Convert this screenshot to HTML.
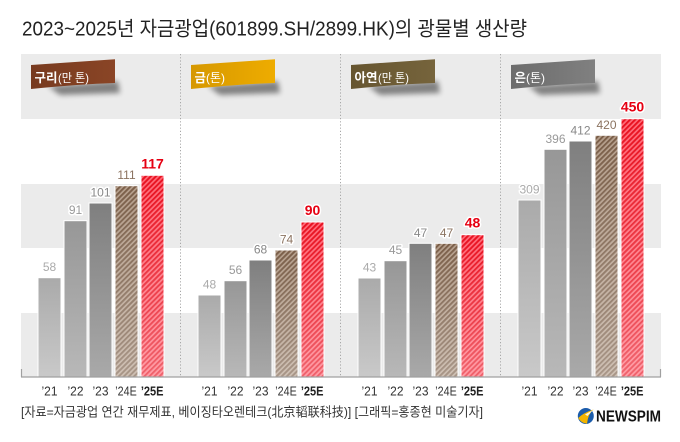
<!DOCTYPE html>
<html><head><meta charset="utf-8"><style>
html,body{margin:0;padding:0;background:#fff;}
svg{display:block;}
text{font-family:"Liberation Sans","Noto Sans CJK KR",sans-serif;}
.v{font-size:12px;fill:#999;stroke:#fff;stroke-width:3px;paint-order:stroke;stroke-linejoin:round;text-anchor:middle;}
.vb{font-size:12px;fill:#8b7360;stroke:#fff;stroke-width:3px;paint-order:stroke;stroke-linejoin:round;text-anchor:middle;}
.vr{font-size:14px;font-weight:bold;fill:#e60012;stroke:#fff;stroke-width:3px;paint-order:stroke;stroke-linejoin:round;text-anchor:middle;}
.x{font-size:12.5px;fill:#333;text-anchor:middle;}
.xb{font-size:12.5px;font-weight:bold;fill:#222;text-anchor:middle;}
.tg{font-size:12.5px;font-weight:bold;fill:#fff;}
.tu{font-size:12px;fill:#fff;}
</style></head><body>
<svg width="680" height="442" viewBox="0 0 680 442" xmlns="http://www.w3.org/2000/svg">
<defs>
  <linearGradient id="g1" x1="0" y1="0" x2="0" y2="1"><stop offset="0" stop-color="#aaaaaa"/><stop offset="1" stop-color="#c9c9c9"/></linearGradient>
  <linearGradient id="g2" x1="0" y1="0" x2="0" y2="1"><stop offset="0" stop-color="#979797"/><stop offset="1" stop-color="#b8b8b8"/></linearGradient>
  <linearGradient id="g3" x1="0" y1="0" x2="0" y2="1"><stop offset="0" stop-color="#7f7f7f"/><stop offset="1" stop-color="#a9a9a9"/></linearGradient>
  <pattern id="pb" width="3.6" height="3.6" patternUnits="userSpaceOnUse" patternTransform="rotate(45)">
    <rect width="3.6" height="3.6" fill="#b59f8c"/><rect width="1.9" height="3.6" fill="#7a5e48"/>
  </pattern>
  <pattern id="pr" width="3.6" height="3.6" patternUnits="userSpaceOnUse" patternTransform="rotate(45)">
    <rect width="3.6" height="3.6" fill="#ff6a78"/><rect width="1.9" height="3.6" fill="#e8101f"/>
  </pattern>
  <linearGradient id="fade" x1="0" y1="0" x2="0" y2="1"><stop offset="0" stop-color="#fff" stop-opacity="0"/><stop offset="1" stop-color="#fff" stop-opacity="0.35"/></linearGradient>
  <linearGradient id="tc" x1="0" x2="1"><stop offset="0" stop-color="#773a1f"/><stop offset="1" stop-color="#8a4526"/></linearGradient>
  <linearGradient id="tgo" x1="0" x2="1"><stop offset="0" stop-color="#d69800"/><stop offset="1" stop-color="#eeac00"/></linearGradient>
  <linearGradient id="tz" x1="0" x2="1"><stop offset="0" stop-color="#665530"/><stop offset="1" stop-color="#76643c"/></linearGradient>
  <linearGradient id="ts" x1="0" x2="1"><stop offset="0" stop-color="#6c6c6c"/><stop offset="1" stop-color="#808080"/></linearGradient>
  <filter id="blur" x="-20%" y="-50%" width="140%" height="200%"><feGaussianBlur stdDeviation="2.6"/></filter>
</defs>

<!-- title -->
<text x="22" y="35.5" font-size="20" fill="#222" textLength="505" lengthAdjust="spacingAndGlyphs">2023~2025년 자금광업(601899.SH/2899.HK)의 광물별 생산량</text>

<!-- bands -->
<rect x="21" y="54" width="640" height="65" fill="#ebebeb"/>
<rect x="21" y="184" width="640" height="64" fill="#ebebeb"/>
<rect x="21" y="313" width="640" height="64" fill="#ebebeb"/>

<!-- dividers -->
<g stroke="#a8a8a8" stroke-width="1" stroke-dasharray="1.2,2">
  <line x1="180.5" y1="54" x2="180.5" y2="377"/>
  <line x1="340.5" y1="54" x2="340.5" y2="377"/>
  <line x1="500.5" y1="54" x2="500.5" y2="377"/>
</g>

<!-- tags -->
<g>
  <path d="M48,86 L118,81 L120,93 L60,95 Z" fill="#000" opacity="0.45" filter="url(#blur)"/>
  <path d="M31,65 L115,59.3 L115,83 Q80,84 31,89 Z" fill="url(#tc)"/>
  <text x="34.5" y="82" class="tg" textLength="23" lengthAdjust="spacingAndGlyphs">구리</text>
  <text x="58" y="82" class="tu" textLength="31" lengthAdjust="spacingAndGlyphs">(만 톤)</text>

  <path d="M208,86 L278,81 L280,93 L220,95 Z" fill="#000" opacity="0.45" filter="url(#blur)"/>
  <path d="M191,65 L275,59.3 L275,83 Q240,84 191,89 Z" fill="url(#tgo)"/>
  <text x="194.5" y="82" class="tg" textLength="11.5" lengthAdjust="spacingAndGlyphs">금</text>
  <text x="206" y="82" class="tu" textLength="19" lengthAdjust="spacingAndGlyphs">(톤)</text>

  <path d="M368,86 L438,81 L440,93 L380,95 Z" fill="#000" opacity="0.45" filter="url(#blur)"/>
  <path d="M351,65 L435,59.3 L435,83 Q400,84 351,89 Z" fill="url(#tz)"/>
  <text x="354.5" y="82" class="tg" textLength="23" lengthAdjust="spacingAndGlyphs">아연</text>
  <text x="378" y="82" class="tu" textLength="31" lengthAdjust="spacingAndGlyphs">(만 톤)</text>

  <path d="M528,86 L598,81 L600,93 L540,95 Z" fill="#000" opacity="0.45" filter="url(#blur)"/>
  <path d="M511,65 L595,59.3 L595,83 Q560,84 511,89 Z" fill="url(#ts)"/>
  <text x="514.5" y="82" class="tg" textLength="11.5" lengthAdjust="spacingAndGlyphs">은</text>
  <text x="526" y="82" class="tu" textLength="19" lengthAdjust="spacingAndGlyphs">(톤)</text>
</g>

<!-- bars -->
<g stroke="#fff" stroke-width="1">
  <!-- copper -->
  <rect x="38" y="277.7" width="23" height="99.3" fill="url(#g1)"/>
  <rect x="64" y="220.7" width="23" height="156.3" fill="url(#g2)"/>
  <rect x="89" y="203" width="23" height="174" fill="url(#g3)"/>
  <rect x="115" y="185.7" width="23" height="191.3" fill="url(#pb)"/>
  <rect x="141" y="175.3" width="23" height="201.7" fill="url(#pr)"/>
  <!-- gold -->
  <rect x="198" y="295" width="23" height="82" fill="url(#g1)"/>
  <rect x="224" y="280.7" width="23" height="96.3" fill="url(#g2)"/>
  <rect x="249" y="260" width="23" height="117" fill="url(#g3)"/>
  <rect x="275" y="250" width="23" height="127" fill="url(#pb)"/>
  <rect x="301" y="222" width="23" height="155" fill="url(#pr)"/>
  <!-- zinc -->
  <rect x="358" y="278" width="23" height="99" fill="url(#g1)"/>
  <rect x="384" y="260.7" width="23" height="116.3" fill="url(#g2)"/>
  <rect x="409" y="243.3" width="23" height="133.7" fill="url(#g3)"/>
  <rect x="435" y="243.3" width="23" height="133.7" fill="url(#pb)"/>
  <rect x="461" y="234.7" width="23" height="142.3" fill="url(#pr)"/>
  <!-- silver -->
  <rect x="518" y="200" width="23" height="177" fill="url(#g1)"/>
  <rect x="544" y="149.3" width="23" height="227.7" fill="url(#g2)"/>
  <rect x="569" y="141" width="23" height="236" fill="url(#g3)"/>
  <rect x="595" y="135.3" width="23" height="241.7" fill="url(#pb)"/>
  <rect x="621" y="118.7" width="23" height="258.3" fill="url(#pr)"/>
</g>
<!-- fade overlays on hatched bars -->
<g fill="url(#fade)">
  <rect x="115.5" y="186" width="22" height="191"/>
  <rect x="141.5" y="176" width="22" height="201"/>
  <rect x="275.5" y="250.5" width="22" height="126.5"/>
  <rect x="301.5" y="222.5" width="22" height="154.5"/>
  <rect x="435.5" y="243.8" width="22" height="133.2"/>
  <rect x="461.5" y="235.2" width="22" height="141.8"/>
  <rect x="595.5" y="135.8" width="22" height="241.2"/>
  <rect x="621.5" y="119.2" width="22" height="257.8"/>
</g>

<!-- axis -->
<g stroke="#a0a0a0" stroke-width="1.2">
  <line x1="21" y1="377" x2="661" y2="377"/>
  <line x1="21.5" y1="369" x2="21.5" y2="377"/>
  <line x1="660.5" y1="369" x2="660.5" y2="377"/>
</g>

<!-- value labels -->
<g>
  <text class="v" x="49.5" y="271.2" fill="#aaa" style="fill:#aaa">58</text>
  <text class="v" x="75.5" y="214.2">91</text>
  <text class="v" x="100.5" y="196.5" style="fill:#888">101</text>
  <text class="vb" x="126.5" y="179.2">111</text>
  <text class="vr" x="152.5" y="168.3">117</text>

  <text class="v" x="209.5" y="288.5" style="fill:#aaa">48</text>
  <text class="v" x="235.5" y="274.2">56</text>
  <text class="v" x="260.5" y="253.5" style="fill:#888">68</text>
  <text class="vb" x="286.5" y="243.5">74</text>
  <text class="vr" x="312.5" y="215">90</text>

  <text class="v" x="369.5" y="271.5" style="fill:#aaa">43</text>
  <text class="v" x="395.5" y="254.2">45</text>
  <text class="v" x="420.5" y="236.8" style="fill:#888">47</text>
  <text class="vb" x="446.5" y="236.8">47</text>
  <text class="vr" x="472.5" y="227.7">48</text>

  <text class="v" x="529.5" y="193.5" style="fill:#aaa">309</text>
  <text class="v" x="555.5" y="142.8">396</text>
  <text class="v" x="580.5" y="134.5" style="fill:#888">412</text>
  <text class="vb" x="606.5" y="128.8">420</text>
  <text class="vr" x="632.5" y="111.7">450</text>
</g>

<!-- x labels -->
<g>
  <text class="x" x="49.5" y="395.7" textLength="16" lengthAdjust="spacingAndGlyphs">’21</text>
  <text class="x" x="75.5" y="395.7" textLength="16" lengthAdjust="spacingAndGlyphs">’22</text>
  <text class="x" x="100.5" y="395.7" textLength="16" lengthAdjust="spacingAndGlyphs">’23</text>
  <text class="x" x="126" y="395.7" textLength="21.5" lengthAdjust="spacingAndGlyphs">’24E</text>
  <text class="xb" x="152.2" y="395.7" textLength="22.7" lengthAdjust="spacingAndGlyphs">’25E</text>

  <text class="x" x="209.5" y="395.7" textLength="16" lengthAdjust="spacingAndGlyphs">’21</text>
  <text class="x" x="235.5" y="395.7" textLength="16" lengthAdjust="spacingAndGlyphs">’22</text>
  <text class="x" x="260.5" y="395.7" textLength="16" lengthAdjust="spacingAndGlyphs">’23</text>
  <text class="x" x="286" y="395.7" textLength="21.5" lengthAdjust="spacingAndGlyphs">’24E</text>
  <text class="xb" x="312.2" y="395.7" textLength="22.7" lengthAdjust="spacingAndGlyphs">’25E</text>

  <text class="x" x="369.5" y="395.7" textLength="16" lengthAdjust="spacingAndGlyphs">’21</text>
  <text class="x" x="395.5" y="395.7" textLength="16" lengthAdjust="spacingAndGlyphs">’22</text>
  <text class="x" x="420.5" y="395.7" textLength="16" lengthAdjust="spacingAndGlyphs">’23</text>
  <text class="x" x="446" y="395.7" textLength="21.5" lengthAdjust="spacingAndGlyphs">’24E</text>
  <text class="xb" x="472.2" y="395.7" textLength="22.7" lengthAdjust="spacingAndGlyphs">’25E</text>

  <text class="x" x="529.5" y="395.7" textLength="16" lengthAdjust="spacingAndGlyphs">’21</text>
  <text class="x" x="555.5" y="395.7" textLength="16" lengthAdjust="spacingAndGlyphs">’22</text>
  <text class="x" x="580.5" y="395.7" textLength="16" lengthAdjust="spacingAndGlyphs">’23</text>
  <text class="x" x="606" y="395.7" textLength="21.5" lengthAdjust="spacingAndGlyphs">’24E</text>
  <text class="xb" x="632.2" y="395.7" textLength="22.7" lengthAdjust="spacingAndGlyphs">’25E</text>
</g>

<!-- footer -->
<text x="21" y="416.5" font-size="13" fill="#333" textLength="462" lengthAdjust="spacingAndGlyphs">[자료=자금광업 연간 재무제표, 베이징타오렌테크(北京韬联科技)] [그래픽=홍종현 미술기자]</text>

<!-- logo -->
<g>
  <circle cx="585.8" cy="416" r="8" fill="#1b5cab"/>
  <path d="M578.2,418 Q583,413 593.5,409.5 Q588,414 587,423.8 Q581,423 578.2,418 Z" fill="#f2b400"/>
  <path d="M585,414.5 L593,410 L587.5,416 Z" fill="#fff" opacity="0.85"/>
  <text x="596" y="421.7" font-size="15.5" font-weight="bold" fill="#111" textLength="65" lengthAdjust="spacingAndGlyphs">NEWSPIM</text>
</g>
</svg>
</body></html>
